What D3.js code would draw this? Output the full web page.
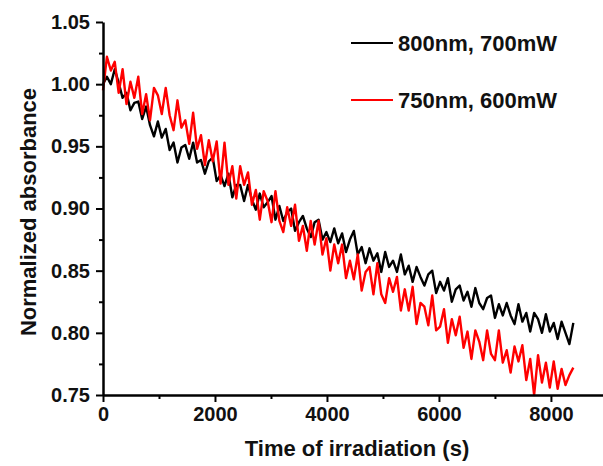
<!DOCTYPE html>
<html>

<head>
    <meta charset="UTF-8">
    <title>Normalized absorbance vs irradiation time</title>
    <style>
        body { margin: 0; background: white; }
        text { font-family: 'Liberation Sans', Arial, sans-serif; font-weight: bold; }
    </style>
</head>

<body>
    <svg></svg>
    <script src="https://d3js.org/d3.v7.min.js"></script>
    <script>
        let width = 603,
            height = 466;

        // time of irradiation (s), one sample every 70 s
        const times = [
            0, 70, 140, 210, 280, 350, 420, 490, 560, 630, 700, 770, 840, 910, 980, 1050, 1120, 1190, 1260, 1330,
            1400, 1470, 1540, 1610, 1680, 1750, 1820, 1890, 1960, 2030, 2100, 2170, 2240, 2310, 2380, 2450, 2520, 2590, 2660, 2730,
            2800, 2870, 2940, 3010, 3080, 3150, 3220, 3290, 3360, 3430, 3500, 3570, 3640, 3710, 3780, 3850, 3920, 3990, 4060, 4130,
            4200, 4270, 4340, 4410, 4480, 4550, 4620, 4690, 4760, 4830, 4900, 4970, 5040, 5110, 5180, 5250, 5320, 5390, 5460, 5530,
            5600, 5670, 5740, 5810, 5880, 5950, 6020, 6090, 6160, 6230, 6300, 6370, 6440, 6510, 6580, 6650, 6720, 6790, 6860, 6930,
            7000, 7070, 7140, 7210, 7280, 7350, 7420, 7490, 7560, 7630, 7700, 7770, 7840, 7910, 7980, 8050, 8120, 8190, 8260, 8330,
            8400
        ];

        // 800nm, 700mW
        const black800 = [
            1.000, 1.006, 1.000, 1.012, 1.001, 0.989, 0.993, 0.979, 0.985, 0.986, 0.972, 0.982, 0.967, 0.958, 0.970, 0.957, 0.964, 0.947, 0.953, 0.937,
            0.949, 0.951, 0.940, 0.953, 0.937, 0.939, 0.928, 0.938, 0.941, 0.922, 0.927, 0.918, 0.928, 0.909, 0.919, 0.919, 0.906, 0.919, 0.907, 0.899,
            0.912, 0.901, 0.905, 0.910, 0.891, 0.902, 0.890, 0.897, 0.900, 0.882, 0.889, 0.894, 0.884, 0.877, 0.889, 0.891, 0.875, 0.881, 0.873, 0.884,
            0.872, 0.880, 0.865, 0.875, 0.882, 0.863, 0.869, 0.856, 0.868, 0.858, 0.864, 0.849, 0.865, 0.853, 0.858, 0.849, 0.863, 0.847, 0.854, 0.841,
            0.853, 0.845, 0.838, 0.847, 0.850, 0.832, 0.841, 0.834, 0.844, 0.825, 0.835, 0.838, 0.826, 0.833, 0.821, 0.836, 0.824, 0.819, 0.828, 0.830,
            0.812, 0.823, 0.814, 0.824, 0.814, 0.807, 0.823, 0.809, 0.816, 0.801, 0.816, 0.811, 0.800, 0.815, 0.801, 0.808, 0.795, 0.809, 0.800, 0.791,
            0.808
        ];

        // 750nm, 600mW
        const red750 = [
            0.995, 1.022, 1.011, 1.018, 0.993, 1.012, 0.984, 1.002, 0.989, 1.006, 0.976, 0.992, 0.971, 0.997, 0.991, 0.976, 0.997, 0.975, 0.963, 0.987,
            0.965, 0.971, 0.952, 0.977, 0.948, 0.959, 0.935, 0.955, 0.938, 0.954, 0.920, 0.953, 0.919, 0.934, 0.908, 0.934, 0.919, 0.929, 0.903, 0.915,
            0.891, 0.914, 0.906, 0.889, 0.914, 0.890, 0.881, 0.901, 0.886, 0.903, 0.874, 0.886, 0.866, 0.890, 0.871, 0.890, 0.863, 0.876, 0.850, 0.871,
            0.856, 0.871, 0.844, 0.858, 0.843, 0.863, 0.834, 0.849, 0.853, 0.831, 0.856, 0.831, 0.824, 0.844, 0.833, 0.845, 0.818, 0.835, 0.818, 0.837,
            0.807, 0.824, 0.821, 0.806, 0.830, 0.802, 0.805, 0.819, 0.792, 0.811, 0.798, 0.813, 0.788, 0.801, 0.779, 0.802, 0.793, 0.778, 0.802, 0.783,
            0.778, 0.802, 0.776, 0.786, 0.768, 0.789, 0.777, 0.790, 0.762, 0.779, 0.750, 0.782, 0.760, 0.776, 0.756, 0.777, 0.755, 0.771, 0.758, 0.766,
            0.772
        ];

        const seriesNames = ["800nm, 700mW", "750nm, 600mW"];
        const seriesColors = ["black", "#ff0000"];
        const xTicks = [0, 2000, 4000, 6000, 8000];
        const xMinorTicks = [1000, 3000, 5000, 7000];
        const yTicks = [0.75, 0.80, 0.85, 0.90, 0.95, 1.00, 1.05];
        const yMinorTicks = [0.775, 0.825, 0.875, 0.925, 0.975, 1.025];

        let svg = d3.select("svg")
            .attr("width", width)
            .attr("height", height);

        const x = d3.scaleLinear().domain([0, 8930]).range([103, 603]);
        const y = d3.scaleLinear().domain([0.75, 1.05]).range([395, 22]);

        const series = [black800, red750].map((vals, k) => ({
            name: seriesNames[k],
            color: seriesColors[k],
            points: times.map((t, i) => ({ t: t, v: vals[i] }))
        }));

        const line = d3.line()
            .x(d => x(d.t))
            .y(d => y(d.v));

        // black first, red drawn over it
        svg.append("g")
            .selectAll("path")
            .data(series)
            .enter().append("path")
            .attr("d", d => line(d.points))
            .attr("fill", "none")
            .attr("stroke", d => d.color)
            .attr("stroke-width", 2.4)
            .attr("stroke-linejoin", "round");

        // axes
        svg.append("g")
            .attr("transform", "translate(0," + y(0.75) + ")")
            .call(d3.axisBottom(x).tickValues(xTicks).tickSize(7).tickSizeOuter(0).tickPadding(5).tickFormat(d3.format("d")));

        svg.append("g")
            .attr("transform", "translate(0," + y(0.75) + ")")
            .call(d3.axisBottom(x).tickValues(xMinorTicks).tickSize(4).tickSizeOuter(0).tickFormat(""))
            .select(".domain").remove();

        svg.append("g")
            .attr("transform", "translate(" + x(0) + ",0)")
            .call(d3.axisLeft(y).tickValues(yTicks).tickSize(7).tickSizeOuter(0).tickPadding(6).tickFormat(d3.format(".2f")));

        svg.append("g")
            .attr("transform", "translate(" + x(0) + ",0)")
            .call(d3.axisLeft(y).tickValues(yMinorTicks).tickSize(4).tickSizeOuter(0).tickFormat(""))
            .select(".domain").remove();

        svg.selectAll(".domain").attr("stroke-width", 2.5).attr("stroke", "black");
        svg.selectAll(".tick line").attr("stroke-width", 2).attr("stroke", "black");
        svg.selectAll(".tick text")
            .attr("font-family", "'Liberation Sans', Arial, sans-serif")
            .attr("font-weight", "bold")
            .attr("font-size", 20)
            .attr("fill", "#111");

        // axis titles
        svg.append("text")
            .attr("x", 357)
            .attr("y", 456)
            .attr("text-anchor", "middle")
            .attr("font-size", 22)
            .attr("fill", "#111")
            .text("Time of irradiation (s)");

        svg.append("text")
            .attr("transform", "translate(36,212) rotate(-90)")
            .attr("text-anchor", "middle")
            .attr("font-size", 22)
            .attr("fill", "#111")
            .text("Normalized absorbance");

        // legend
        const legend = svg.append("g")
            .selectAll("g")
            .data(series)
            .enter().append("g")
            .attr("transform", (d, i) => "translate(351," + (43 + i * 57) + ")");

        legend.append("line")
            .attr("x1", 0)
            .attr("x2", 42)
            .attr("stroke", d => d.color)
            .attr("stroke-width", 2);

        legend.append("text")
            .attr("x", 47)
            .attr("dy", "0.35em")
            .attr("font-size", 22)
            .attr("fill", "#111")
            .text(d => d.name);

    </script>
</body>

</html>
